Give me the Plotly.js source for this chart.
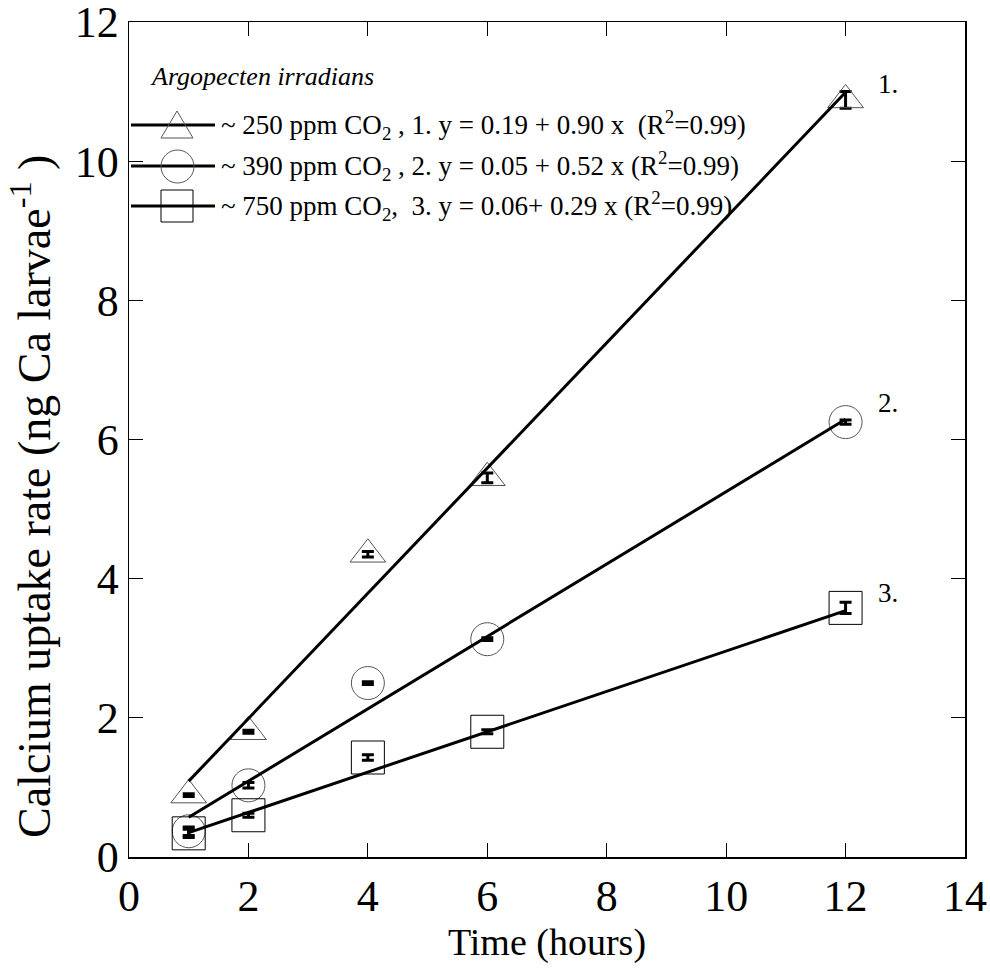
<!DOCTYPE html>
<html>
<head>
<meta charset="utf-8">
<script src="https://cdn.plot.ly/plotly-3.0.1.min.js"></script>
<style>html,body{margin:0;padding:0;background:#fff;}#chart{width:990px;height:968px;}</style>
</head>
<body>
<div id="chart"></div>
<script>
// ---- data ----
var hours = [1, 2, 4, 6, 12];
var uptake250 = [0.89, 1.80, 4.35, 5.45, 10.88];
var err250 = [0.02, 0.02, 0.04, 0.07, 0.12];
var uptake390 = [0.37, 1.03, 2.50, 3.13, 6.25];
var err390 = [0.06, 0.04, 0.02, 0.02, 0.03];
var uptake750 = [0.34, 0.60, 1.43, 1.80, 3.58];
var err750 = [0.06, 0.03, 0.04, 0.03, 0.08];
var fitX = [1, 12];
var fit250 = [1.09, 10.99];
var fit390 = [0.57, 6.29];
var fit750 = [0.35, 3.54];
var legendLabels = [
  "~ 250 ppm CO<sub>2</sub> , 1. y = 0.19 + 0.90 x  (R<sup>2</sup>=0.99)",
  "~ 390 ppm CO<sub>2</sub> , 2. y = 0.05 + 0.52 x (R<sup>2</sup>=0.99)",
  "~ 750 ppm CO<sub>2</sub>,  3. y = 0.06+ 0.29 x (R<sup>2</sup>=0.99)"
];
var lineLabels = ["1.", "2.", "3."];
var yTitle = "Calcium uptake rate (ng Ca larvae<sup>-1</sup> )";
var xTitle = "Time (hours)";

// ---- layout helpers ----
var W = 990, H = 968, L = 129, R = 25, T = 22, B = 111;
var pw = W - L - R, ph = H - T - B;
function px(x) { return (x - L) / pw; }
function py(y) { return (H - B - y) / ph; }
var serif = "Liberation Serif";

function markerTrace(y, err, symbol, size, col) {
  return {
    x: hours, y: y, type: "scatter", mode: "markers", showlegend: false,
    marker: {symbol: symbol, size: size, color: col, line: {color: col, width: 1}},
    error_y: {type: "data", array: err, visible: true, color: "#000", thickness: 3, width: 6}
  };
}
function fitTrace(y) {
  return {x: fitX, y: y, type: "scatter", mode: "lines", showlegend: false,
    line: {color: "#000", width: 3}};
}

var data = [
  markerTrace(uptake250, err250, "triangle-up-open", 31, "#555"),
  markerTrace(uptake390, err390, "circle-open", 33, "#555"),
  markerTrace(uptake750, err750, "square-open", 33, "#000"),
  fitTrace(fit250), fitTrace(fit390), fitTrace(fit750)
];

// legend glyphs (drawn in paper coordinates)
var legY = [125, 166, 206];
var shapes = [];
var annotations = [];
legY.forEach(function (yy, i) {
  shapes.push({type: "line", xref: "paper", yref: "paper", x0: px(131), x1: px(215), y0: py(yy), y1: py(yy),
    line: {color: "#000", width: 3}});
  annotations.push({xref: "paper", yref: "paper", x: px(219), y: py(yy), xanchor: "left", yanchor: "middle",
    text: legendLabels[i], showarrow: false, font: {family: serif, size: 27, color: "#000"}});
});
// triangle
shapes.push({type: "path", xref: "paper", yref: "paper",
  path: "M" + px(161) + "," + py(138) + " L" + px(193) + "," + py(138) + " L" + px(177) + "," + py(111) + " Z",
  line: {color: "#555", width: 1}});
// circle
shapes.push({type: "circle", xref: "paper", yref: "paper", x0: px(161), x1: px(194), y0: py(150), y1: py(183),
  line: {color: "#555", width: 1}});
// square
shapes.push({type: "rect", xref: "paper", yref: "paper", x0: px(161), x1: px(193), y0: py(190), y1: py(222),
  line: {color: "#000", width: 1}});

annotations.push({xref: "paper", yref: "paper", x: px(148), y: py(77), xanchor: "left", yanchor: "middle",
  text: "<i>Argopecten irradians</i>", showarrow: false, font: {family: serif, size: 26, color: "#000"}});

// y axis title placed as rotated text
annotations.push({xref: "paper", yref: "paper", x: px(31), y: py(497), xanchor: "center", yanchor: "middle",
  textangle: -90, text: yTitle, showarrow: false, font: {family: serif, size: 46, color: "#000"}});

// series number labels at line ends
var labelYs = [fit250[1], fit390[1], fit750[1]];
labelYs.forEach(function (v, i) {
  annotations.push({x: 12, y: v, xref: "x", yref: "y", xanchor: "left", yanchor: "middle",
    xshift: 30, yshift: [8, 16, 18][i], text: lineLabels[i], showarrow: false,
    font: {family: serif, size: 27, color: "#000"}});
});

var layout = {
  width: W, height: H,
  margin: {l: L, r: R, t: T, b: B, pad: 0},
  paper_bgcolor: "#fff", plot_bgcolor: "#fff",
  font: {family: serif, color: "#000"},
  xaxis: {
    range: [0, 14], dtick: 2, tick0: 0, ticks: "inside", ticklen: 14, tickwidth: 1, tickcolor: "#000",
    showline: true, linecolor: "#000", linewidth: 1.5, mirror: "ticks", showgrid: false, zeroline: false,
    ticklabeloverflow: "allow",
    tickfont: {family: serif, size: 44, color: "#000"},
    title: {text: xTitle, font: {family: serif, size: 38, color: "#000"}, standoff: 8}
  },
  yaxis: {
    range: [0, 12], dtick: 2, tick0: 0, ticks: "inside", ticklen: 14, tickwidth: 1, tickcolor: "#000",
    showline: true, linecolor: "#000", linewidth: 1.5, mirror: "ticks", showgrid: false, zeroline: false,
    ticklabeloverflow: "allow",
    tickfont: {family: serif, size: 44, color: "#000"}
  },
  shapes: shapes,
  annotations: annotations,
  showlegend: false
};

Plotly.newPlot("chart", data, layout, {displayModeBar: false, staticPlot: true});
</script>
</body>
</html>
